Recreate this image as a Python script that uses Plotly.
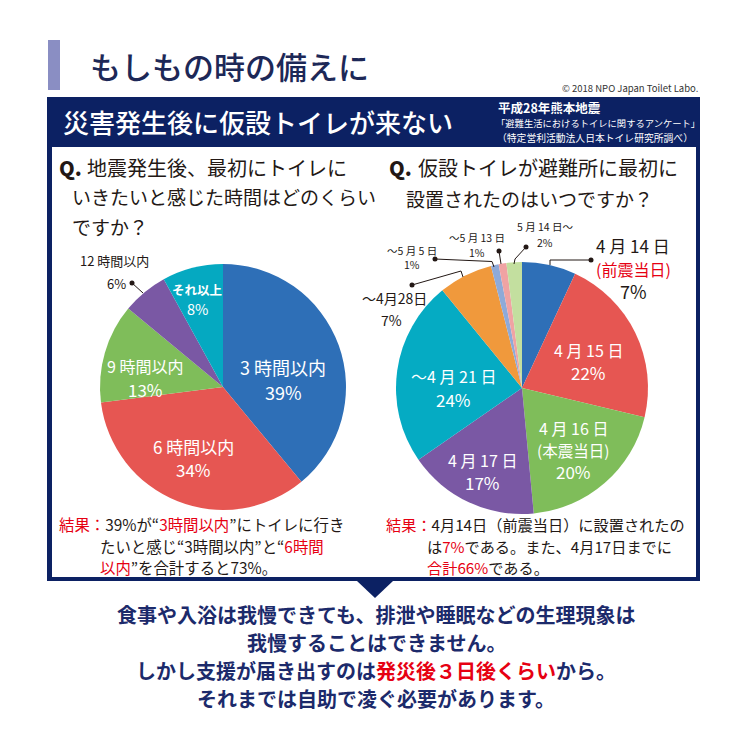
import plotly.graph_objects as go

W = H = 750
FONT = "Noto Sans CJK JP"
NAVY = "#0c2163"
TXT = "#231815"
RED = "#e60012"

# ---------------- data ----------------
q1_labels = ["3 時間以内", "6 時間以内", "9 時間以内", "12 時間以内", "それ以上"]
q1_values = [39, 34, 13, 6, 8]
q1_colors = ["#2e6fb7", "#e65652", "#7fbd5a", "#7a58a4", "#05a9c1"]

q2_labels = ["4 月 14 日", "4 月 15 日", "4 月 16 日", "4 月 17 日", "～4 月 21 日",
             "～4月28日", "～5 月 5 日", "～5 月 13 日", "5 月 14 日～"]
q2_values = [7, 22, 20, 17, 24, 7, 1, 1, 2]
q2_notes = ["(前震当日)", "", "(本震当日)", "", "", "", "", "", ""]
q2_colors = ["#2e6fb7", "#e65652", "#7fbd5a", "#7a58a4", "#05abc3",
             "#f0993c", "#8eaad8", "#f0a3a3", "#c3df9f"]


def X(p):
    return p / W


def Y(p):
    return 1 - p / H


def dom(cx, cy, r):
    return dict(x=[X(cx - r), X(cx + r)], y=[Y(cy + r), Y(cy - r)])


fig = go.Figure()
fig.add_trace(go.Pie(labels=q1_labels, values=q1_values, sort=False, direction="clockwise",
                     rotation=0, textinfo="none", showlegend=False,
                     marker=dict(colors=q1_colors, line=dict(width=0)),
                     domain=dom(223, 387, 123)))
fig.add_trace(go.Pie(labels=q2_labels, values=q2_values, sort=False, direction="clockwise",
                     rotation=0, textinfo="none", showlegend=False,
                     marker=dict(colors=q2_colors, line=dict(width=0)),
                     domain=dom(522, 388, 126)))

shapes = []


def rect(x0, y0, x1, y1, color):
    shapes.append(dict(type="rect", xref="paper", yref="paper", x0=X(x0), x1=X(x1),
                       y0=Y(y1), y1=Y(y0), fillcolor=color, line=dict(width=0), layer="below"))


def path(pts, color=TXT, width=1, fill=None):
    d = "M " + " L ".join(f"{X(a)},{Y(b)}" for a, b in pts)
    if fill:
        d += " Z"
    s = dict(type="path", xref="paper", yref="paper", path=d, line=dict(color=color, width=width))
    if fill:
        s["fillcolor"] = fill
        s["line"] = dict(width=0)
        s["layer"] = "below"
    shapes.append(s)


def dot(x, y, r=2.5):
    shapes.append(dict(type="circle", xref="paper", yref="paper", x0=X(x - r), x1=X(x + r),
                       y0=Y(y + r), y1=Y(y - r), fillcolor=TXT, line=dict(width=0)))


rect(48, 40, 60, 90, "#8a8ec3")
rect(47, 97, 700, 581, NAVY)
rect(52, 147, 696, 577, "white")
path([(357, 581), (393, 581), (375, 598)], fill=NAVY)

# leader lines
path([(132, 283), (143, 293)])
dot(132, 283)
path([(550, 265), (550, 260), (591, 260)])
dot(591, 260)
path([(412, 285), (461, 271), (463, 277)])
dot(412, 285)
path([(435, 259), (492, 261.5), (494, 267)])
dot(435, 259)
path([(499, 251), (501, 264)])
dot(499, 251)
path([(526, 247), (515, 259), (514, 264)])
dot(526, 247)

ann = []


def T(x, y, text, size, color=TXT, anchor="center", weight=400):
    ann.append(dict(x=X(x), y=Y(y), xref="paper", yref="paper", text=text, showarrow=False,
                    xanchor=anchor, yanchor="middle",
                    font=dict(family=FONT, size=size, color=color, weight=weight)))


def R(s):
    return f'<span style="color:{RED}">{s}</span>'


# title area
T(88, 66, "もしもの時の備えに", 31, color="#1d2857", anchor="left", weight=500)
T(700, 88, "© 2018 NPO Japan Toilet Labo.", 9.5, color="#333333", anchor="right")
T(61, 122, "災害発生後に仮設トイレが来ない", 26, color="white", anchor="left", weight=500)
T(496, 107, "平成28年熊本地震", 12.5, color="white", anchor="left", weight=700)
T(494, 123, "「避難生活におけるトイレに関するアンケート」", 9.3, color="white", anchor="left")
T(495, 138, "（特定営利活動法人日本トイレ研究所調べ）", 9.8, color="white", anchor="left")

# questions
T(57, 168, "Q.", 20, anchor="left", weight=900)
T(85, 168, "地震発生後、最初にトイレに", 20, anchor="left")
T(70, 197, "いきたいと感じた時間はどのくらい", 19, anchor="left")
T(70, 226, "ですか？", 19, anchor="left")
T(387, 168, "Q.", 20, anchor="left", weight=900)
T(416, 168, "仮設トイレが避難所に最初に", 20, anchor="left")
T(404, 198, "設置されたのはいつですか？", 19, anchor="left")

# pie 1 labels
T(283, 367, q1_labels[0], 18, color="white")
T(283, 392, f"{q1_values[0]}%", 18, color="white")
T(193, 446, q1_labels[1], 17, color="white")
T(193, 469, f"{q1_values[1]}%", 17, color="white")
T(145, 366, q1_labels[2], 16, color="white")
T(145, 389, f"{q1_values[2]}%", 17, color="white")
T(115, 260, q1_labels[3], 13)
T(116, 283, f"{q1_values[3]}%", 13)
T(197, 289.5, q1_labels[4], 12.5, color="white", weight=700)
T(197, 308, f"{q1_values[4]}%", 14.5, color="white")

# pie 2 labels
T(633, 245.5, q2_labels[0], 17)
T(633, 268.5, R(q2_notes[0]), 16)
T(633, 291, f"{q2_values[0]}%", 18)
T(588, 350, q2_labels[1], 16, color="white")
T(588, 372, f"{q2_values[1]}%", 17, color="white")
T(573, 428, q2_labels[2], 16, color="white")
T(573, 450, q2_notes[2], 15.5, color="white")
T(573, 471.5, f"{q2_values[2]}%", 17, color="white")
T(482, 460, q2_labels[3], 16, color="white")
T(482, 482, f"{q2_values[3]}%", 17, color="white")
T(453, 376, q2_labels[4], 16, color="white")
T(453, 399, f"{q2_values[4]}%", 17, color="white")
T(394, 298, q2_labels[5], 14)
T(392, 320, f"{q2_values[5]}%", 14)
T(412, 250.5, q2_labels[6], 10.5)
T(412, 264.5, f"{q2_values[6]}%", 10.5)
T(477, 237, q2_labels[7], 10.5)
T(477, 252, f"{q2_values[7]}%", 10.5)
T(545, 227, q2_labels[8], 10.5)
T(545, 242, f"{q2_values[8]}%", 10.5)

# results
T(57, 524, R("結果：") + "39%が“" + R("3時間以内") + "”にトイレに行き", 15.4, anchor="left")
T(98, 546, "たいと感じ“3時間以内”と“" + R("6時間"), 15.4, anchor="left")
T(98, 567, R("以内") + "”を合計すると73%。", 15.4, anchor="left")
T(384, 524, R("結果：") + "4月14日（前震当日）に設置されたの", 15.2, anchor="left")
T(425, 546, "は" + R("7%") + "である。また、4月17日までに", 15.2, anchor="left")
T(425, 567, R("合計66%") + "である。", 15.2, anchor="left")

# bottom message
BN = "#1c2a6b"
T(376, 614, "食事や入浴は我慢できても、排泄や睡眠などの生理現象は", 20, color=BN, weight=700)
T(376, 642, "我慢することはできません。", 20, color=BN, weight=700)
T(376, 670, "しかし支援が届き出すのは" + R("発災後３日後くらい") + "から。", 20, color=BN, weight=700)
T(376, 698, "それまでは自助で凌ぐ必要があります。", 20, color=BN, weight=700)

fig.update_layout(width=W, height=H, margin=dict(l=0, r=0, t=0, b=0),
                  paper_bgcolor="white", plot_bgcolor="white",
                  shapes=shapes, annotations=ann, showlegend=False)
fig.write_html("out.html", config={"displayModeBar": False},
               post_script="document.body.style.margin='0px';document.body.style.overflow='hidden';")
